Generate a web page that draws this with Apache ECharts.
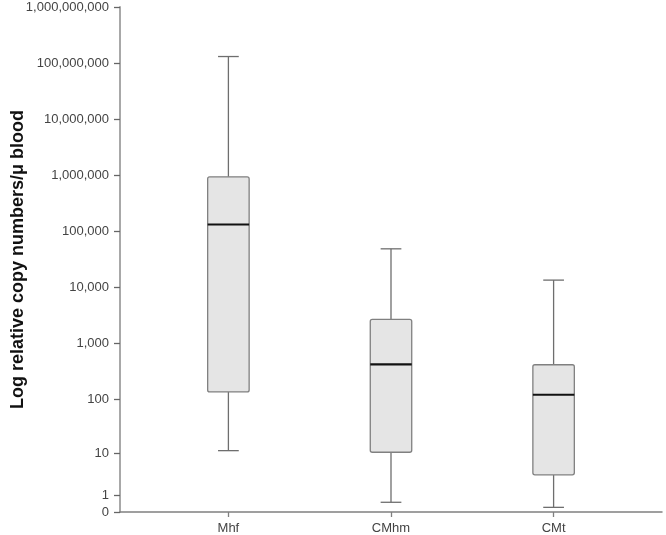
<!DOCTYPE html>
<html>
<head>
<meta charset="utf-8">
<script src="https://cdn.jsdelivr.net/npm/echarts@6/dist/echarts.min.js"></script>
<style>
  html, body { margin: 0; padding: 0; background: #fff; }
  #chart { width: 666px; height: 535px; }
</style>
</head>
<body>
<div id="chart"></div>
<script>
// box plot, y axis is log10(value + 1) so 0 and 1 can be shown
const categories = ['Mhf', 'CMhm', 'CMt'];
const whiskerLow = [11.4, 0.49, 0.21];
const q1 = [137, 10.6, 3.6];
const median = [133000, 427, 122];
const q3 = [939000, 2706, 420];
const whiskerHigh = [131000000, 49000, 13570];

const yTickValues = [0, 1, 10, 100, 1000, 10000, 100000, 1000000, 10000000, 100000000, 1000000000];
const yTickLabels = ['0', '1', '10', '100', '1,000', '10,000', '100,000', '1,000,000',
  '10,000,000', '100,000,000', '1,000,000,000'];

const toLog = v => Math.log10(v + 1);
const yTickPos = yTickValues.map(toLog);

const boxData = categories.map((c, i) => [
  i, toLog(whiskerLow[i]), toLog(q1[i]), toLog(median[i]), toLog(q3[i]), toLog(whiskerHigh[i])
]);

function renderBox(params, api) {
  const x = api.value(0);
  const lo = api.coord([x, api.value(1)]);
  const b = api.coord([x, api.value(2)]);
  const m = api.coord([x, api.value(3)]);
  const t = api.coord([x, api.value(4)]);
  const hi = api.coord([x, api.value(5)]);
  const w = api.size([0.255, 0])[0];
  const cx = lo[0];
  const ws = { stroke: '#6e6e6e', lineWidth: 1.3 };
  const line = (x1, y1, x2, y2, style) => ({ type: 'line', shape: { x1, y1, x2, y2 }, style });
  return {
    type: 'group',
    children: [
      line(cx, hi[1], cx, t[1], ws),
      line(cx - w / 4, hi[1], cx + w / 4, hi[1], ws),
      line(cx, b[1], cx, lo[1], ws),
      line(cx - w / 4, lo[1], cx + w / 4, lo[1], ws),
      {
        type: 'rect',
        shape: { x: cx - w / 2, y: t[1], width: w, height: b[1] - t[1], r: 2 },
        style: { fill: '#e5e5e5', stroke: '#808080', lineWidth: 1.3 }
      },
      line(cx - w / 2, m[1], cx + w / 2, m[1], { stroke: '#111', lineWidth: 2.2 })
    ]
  };
}

const chart = echarts.init(document.getElementById('chart'));

const option = {
  animation: false,
  grid: { left: 120, right: 4, top: 7, bottom: 23, outerBoundsMode: 'none' },
  xAxis: {
    type: 'value',
    min: -2 / 3,
    max: 2 + 2 / 3,
    splitLine: { show: false },
    axisLine: { onZero: false, lineStyle: { color: '#808080', width: 1.5 } },
    axisTick: { customValues: [0, 1, 2], length: 5, lineStyle: { color: '#808080', width: 1.3 } },
    axisLabel: {
      customValues: [0, 1, 2],
      formatter: v => categories[Math.round(v)],
      margin: 10,
      fontFamily: 'Liberation Sans, Arial, sans-serif',
      fontSize: 13,
      color: '#444'
    }
  },
  yAxis: {
    type: 'value',
    min: 0,
    max: toLog(1000000000),
    splitLine: { show: false },
    axisLine: { show: true, onZero: false, lineStyle: { color: '#a8a8a8', width: 2 } },
    axisTick: { show: true, customValues: yTickPos, length: 6, lineStyle: { color: '#666', width: 1.3 } },
    axisLabel: {
      customValues: yTickPos,
      formatter: v => {
        let best = 0;
        yTickPos.forEach((p, i) => { if (Math.abs(p - v) < Math.abs(yTickPos[best] - v)) best = i; });
        return yTickLabels[best];
      },
      margin: 11,
      fontFamily: 'Liberation Sans, Arial, sans-serif',
      fontSize: 13,
      color: '#444'
    },
    name: 'Log relative copy numbers/\u03bc blood',
    nameLocation: 'middle',
    nameGap: 93,
    nameMoveOverlap: false,
    nameTextStyle: {
      fontFamily: 'Liberation Sans, Arial, sans-serif',
      fontSize: 18,
      fontWeight: 'bold',
      color: '#111'
    }
  },
  series: [{
    type: 'custom',
    renderItem: renderBox,
    encode: { x: 0, y: [1, 2, 3, 4, 5] },
    data: boxData
  }]
};

chart.setOption(option);
</script>
</body>
</html>
